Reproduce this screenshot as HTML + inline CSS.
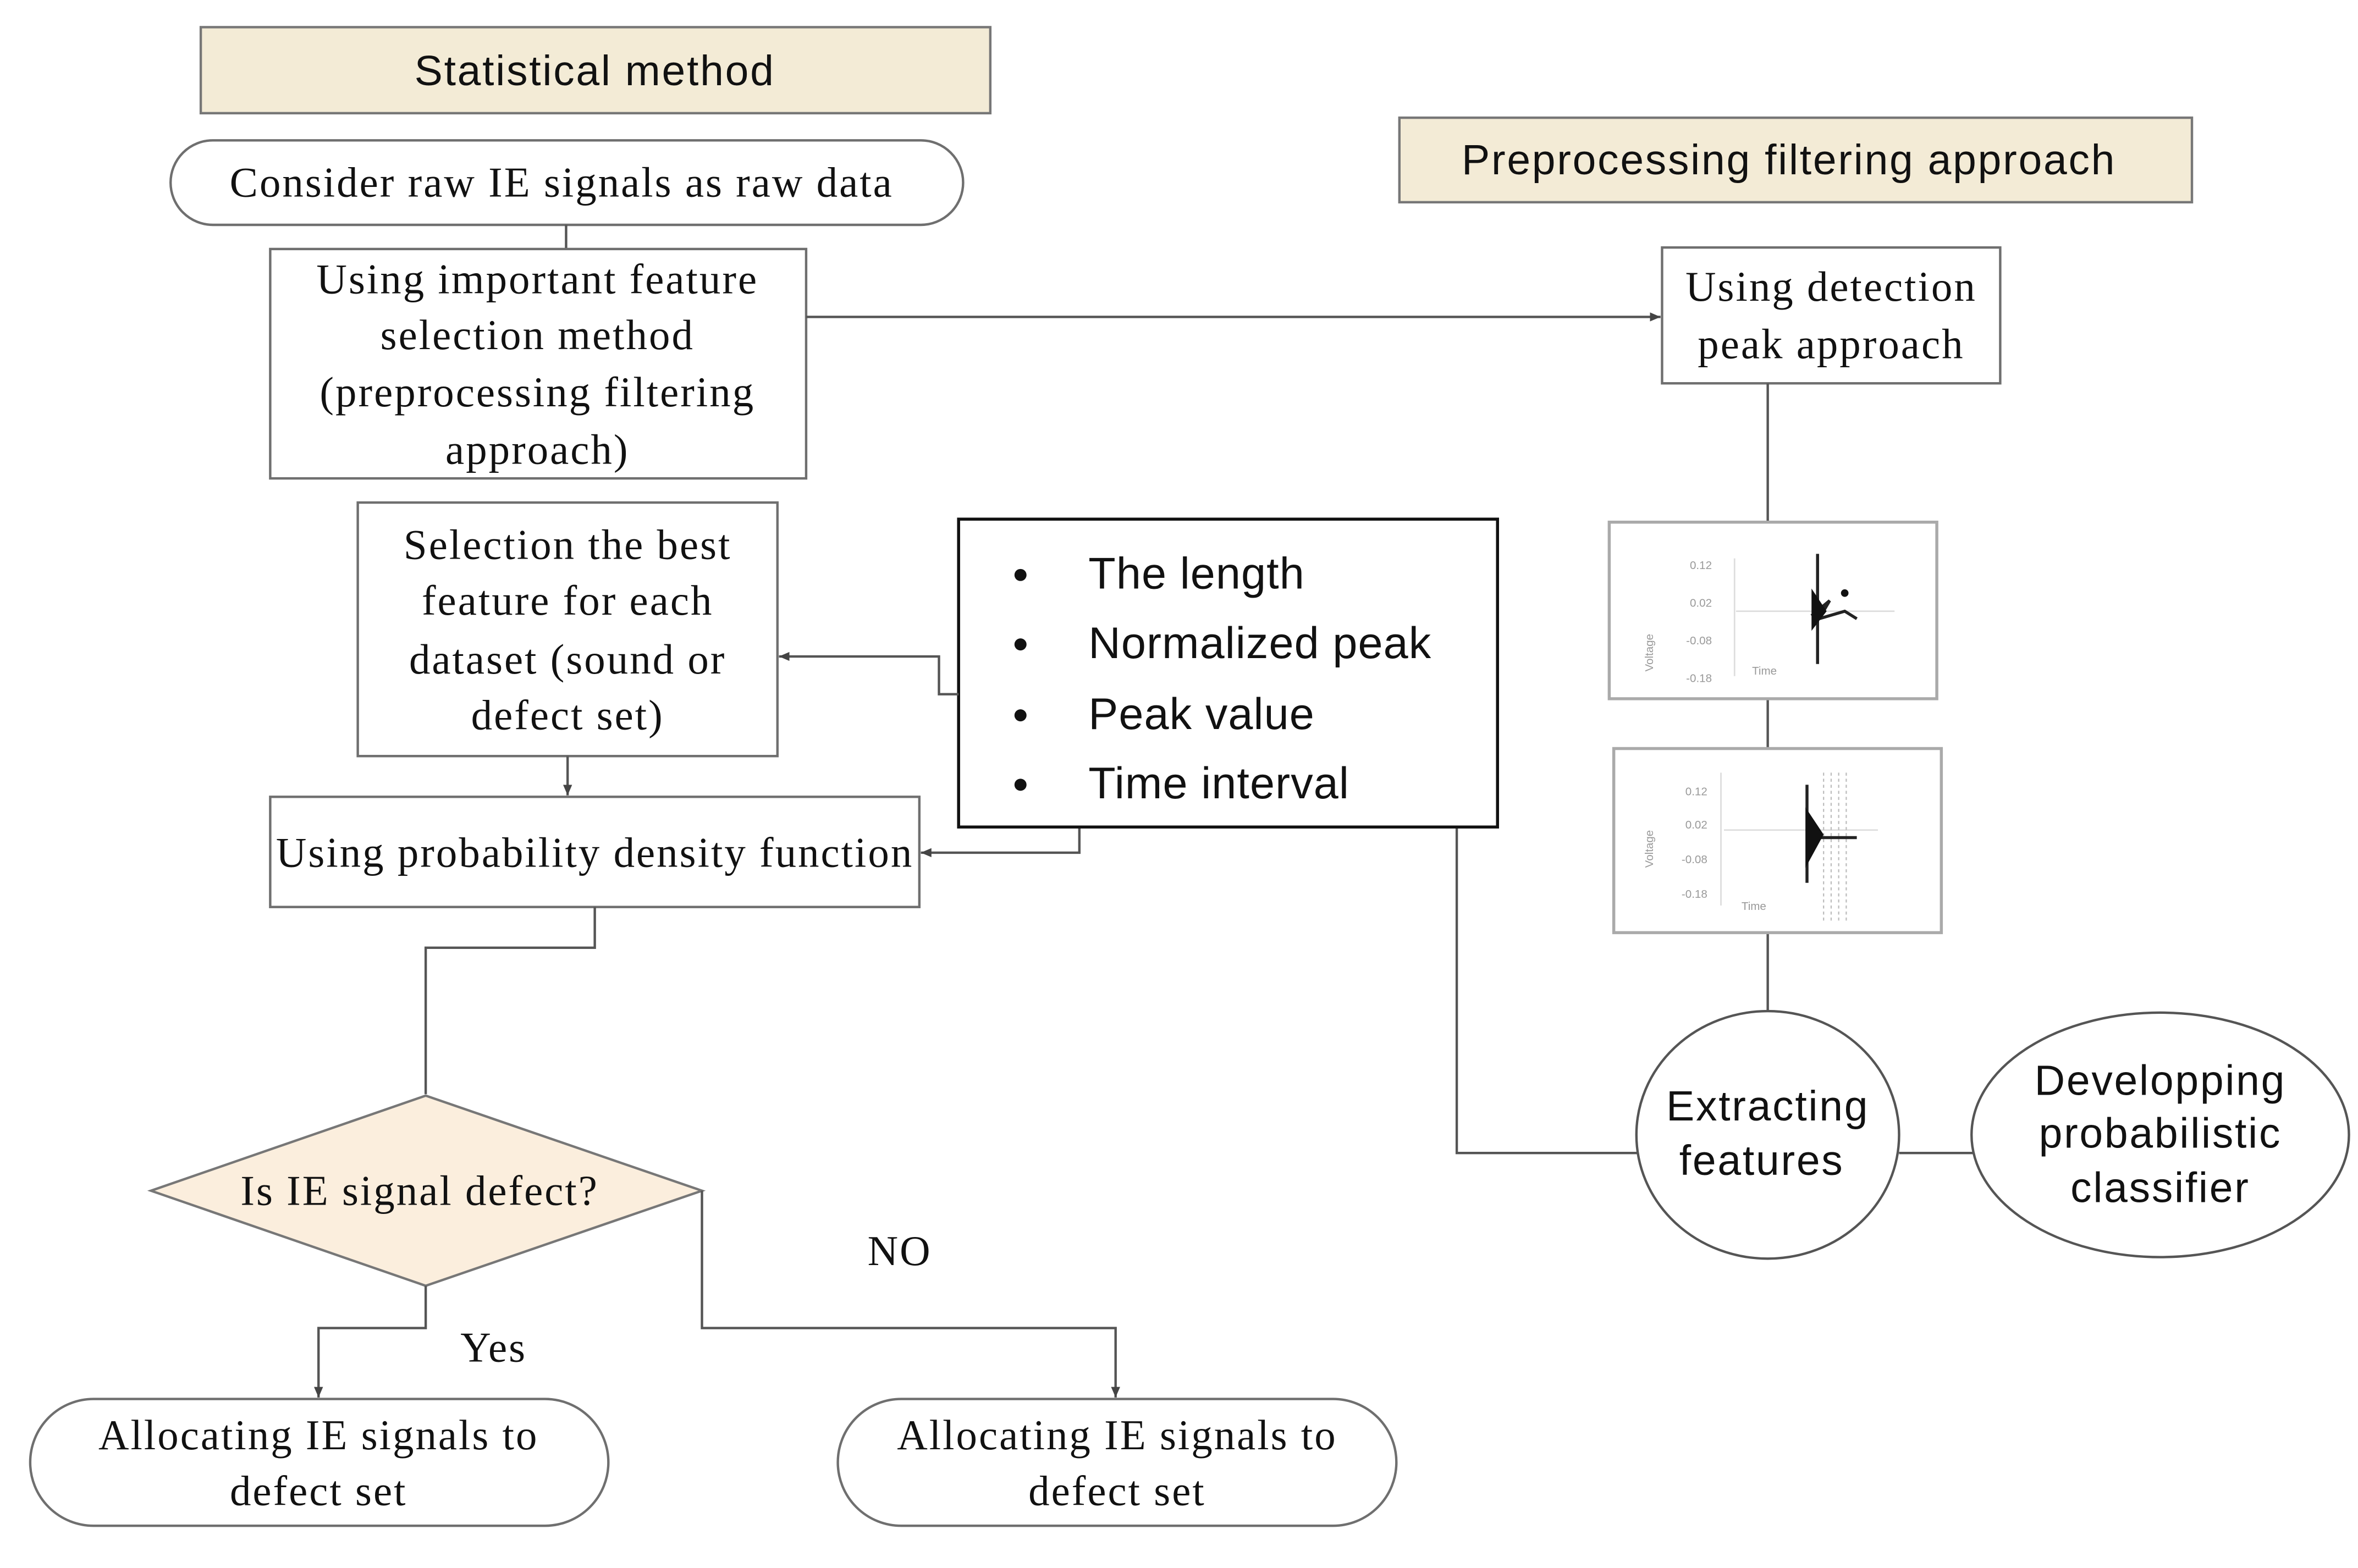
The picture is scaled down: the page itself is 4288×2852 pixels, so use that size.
<!DOCTYPE html>
<html><head><meta charset="utf-8"><style>
html,body{margin:0;padding:0;background:#fff;}
svg{display:block;}
.s{font-family:"Liberation Serif",serif;font-size:28px;letter-spacing:1.1px;fill:#111;text-anchor:middle;dominant-baseline:central;}
.a{font-family:"Liberation Sans",sans-serif;font-size:28px;letter-spacing:1px;fill:#111;text-anchor:middle;dominant-baseline:central;}
.b{fill:#fff;stroke:#6f6f6f;stroke-width:1.6;}
.c{fill:none;stroke:#555;stroke-width:1.6;}
.p{font-family:"Liberation Sans",sans-serif;font-size:7.5px;fill:#999;text-anchor:end;}
</style></head><body>
<svg width="4288" height="2852" viewBox="0 0 1562 1039" preserveAspectRatio="none" xmlns="http://www.w3.org/2000/svg">
<defs><marker id="ar" markerWidth="8" markerHeight="8" refX="7" refY="4" orient="auto" markerUnits="userSpaceOnUse"><path d="M0,1 L7,4 L0,7z" fill="#444"/></marker></defs>
<rect x="0" y="0" width="1562" height="1039" fill="#fff"/>
<rect x="133" y="18" width="523" height="57" fill="#f3ebd6" stroke="#777" stroke-width="1.6"/>
<text class="a" x="394" y="47">Statistical method</text>
<rect x="927" y="78" width="525" height="56" fill="#f3ebd6" stroke="#777" stroke-width="1.6"/>
<text class="a" x="1185" y="106">Preprocessing filtering approach</text>
<rect class="b" x="113" y="93" width="525" height="56" rx="28"/>
<text class="s" x="372" y="121">Consider raw IE signals as raw data</text>
<path class="c" d="M375,149 V165"/>
<rect class="b" x="179" y="165" width="355" height="152"/>
<text class="s" x="356" y="185">Using important feature</text>
<text class="s" x="356" y="222">selection method</text>
<text class="s" x="356" y="260">(preprocessing filtering</text>
<text class="s" x="356" y="298">approach)</text>
<path class="c" d="M534,210 H1100" marker-end="url(#ar)"/>
<rect class="b" x="237" y="333" width="278" height="168"/>
<text class="s" x="376" y="361">Selection the best</text>
<text class="s" x="376" y="398">feature for each</text>
<text class="s" x="376" y="437">dataset (sound or</text>
<text class="s" x="376" y="474">defect set)</text>
<path class="c" d="M376,501 V527" marker-end="url(#ar)"/>
<rect class="b" x="179" y="528" width="430" height="73"/>
<text class="s" x="394" y="565">Using probability density function</text>
<rect x="635" y="344" width="357" height="204" fill="#fff" stroke="#111" stroke-width="2"/>
<g font-family="Liberation Sans,sans-serif" font-size="29.5" letter-spacing="0.4" fill="#111">
<circle cx="676" cy="381" r="4" fill="#111"/><text x="721" y="390">The length</text>
<circle cx="676" cy="427" r="4" fill="#111"/><text x="721" y="436">Normalized peak</text>
<circle cx="676" cy="474" r="4" fill="#111"/><text x="721" y="483">Peak value</text>
<circle cx="676" cy="520" r="4" fill="#111"/><text x="721" y="529">Time interval</text>
</g>
<path class="c" d="M635,460 H622 V435 H516" marker-end="url(#ar)"/>
<path class="c" d="M715,549 V565 H610" marker-end="url(#ar)"/>
<path class="c" d="M965,549 V764 H1085"/>
<path class="c" d="M394,601 V628 H282 V725"/>
<polygon points="282,726 465,789 282,852 100,789" fill="#fbeedd" stroke="#777" stroke-width="1.6"/>
<text class="s" x="278" y="789">Is IE signal defect?</text>
<path class="c" d="M282,852 V880 H211 V926" marker-end="url(#ar)"/>
<path class="c" d="M465,789 V880 H739 V926" marker-end="url(#ar)"/>
<text class="s" x="327" y="893">Yes</text>
<text class="s" x="596" y="829">NO</text>
<rect class="b" x="20" y="927" width="383" height="84" rx="42"/>
<text class="s" x="211" y="951">Allocating IE signals to</text>
<text class="s" x="211" y="988">defect  set</text>
<rect class="b" x="555" y="927" width="370" height="84" rx="42"/>
<text class="s" x="740" y="951">Allocating IE signals to</text>
<text class="s" x="740" y="988">defect  set</text>
<rect class="b" x="1101" y="164" width="224" height="90"/>
<text class="s" x="1213" y="190">Using detection</text>
<text class="s" x="1213" y="228">peak approach</text>
<path class="c" d="M1171,254 V346 M1171,463 V496 M1171,618 V670"/>
<rect x="1066" y="346" width="217" height="117" fill="#fff" stroke="#aaa" stroke-width="2"/>
<g>
<text class="p" x="1134" y="377">0.12</text><text class="p" x="1134" y="402">0.02</text>
<text class="p" x="1134" y="427">-0.08</text><text class="p" x="1134" y="452">-0.18</text>
<text class="p" x="1177" y="447" text-anchor="middle">Time</text>
<text class="p" x="1095" y="420" transform="rotate(-90 1095 420)" text-anchor="middle">Voltage</text>
<path d="M1149,370 V448 M1150,405 H1255" stroke="#ddd" stroke-width="1"/>
<path d="M1204,367 V440 M1200,408 L1212,398 L1205,410 L1222,405 L1230,410" stroke="#222" stroke-width="2" fill="none"/>
<path d="M1200,390 L1210,405 L1200,418z" fill="#111"/>
<circle cx="1222" cy="393" r="2.5" fill="#111"/>
</g>
<rect x="1069" y="496" width="217" height="122" fill="#fff" stroke="#aaa" stroke-width="2"/>
<g>
<text class="p" x="1131" y="527">0.12</text><text class="p" x="1131" y="549">0.02</text>
<text class="p" x="1131" y="572">-0.08</text><text class="p" x="1131" y="595">-0.18</text>
<text class="p" x="1170" y="603" text-anchor="middle">Time</text>
<text class="p" x="1095" y="550" transform="rotate(-90 1095 550)" text-anchor="middle">Voltage</text>
<path d="M1140,512 V600 M1142,550 H1244" stroke="#ddd" stroke-width="1"/>
<path d="M1208,512 V610 M1213,512 V610 M1218,512 V610 M1223,512 V610" stroke="#bbb" stroke-width="0.8" stroke-dasharray="2,2"/>
<path d="M1197,520 V585 M1198,555 H1230" stroke="#222" stroke-width="2" fill="none"/>
<path d="M1196,535 L1208,553 L1196,575z" fill="#111"/>
</g>
<ellipse cx="1171" cy="752" rx="87" ry="82" fill="#fff" stroke="#555" stroke-width="1.6"/>
<text class="a" x="1171" y="733" font-size="29" letter-spacing="0.5">Extracting</text>
<text class="a" x="1167" y="769" font-size="29" letter-spacing="0.5">features</text>
<path class="c" d="M1258,764 H1307"/>
<ellipse cx="1431" cy="752" rx="125" ry="81" fill="#fff" stroke="#555" stroke-width="1.6"/>
<text class="a" x="1431" y="716" font-size="29" letter-spacing="0.5">Developping</text>
<text class="a" x="1431" y="751" font-size="29" letter-spacing="0.5">probabilistic</text>
<text class="a" x="1431" y="787" font-size="29" letter-spacing="0.5">classifier</text>
</svg>
</body></html>
